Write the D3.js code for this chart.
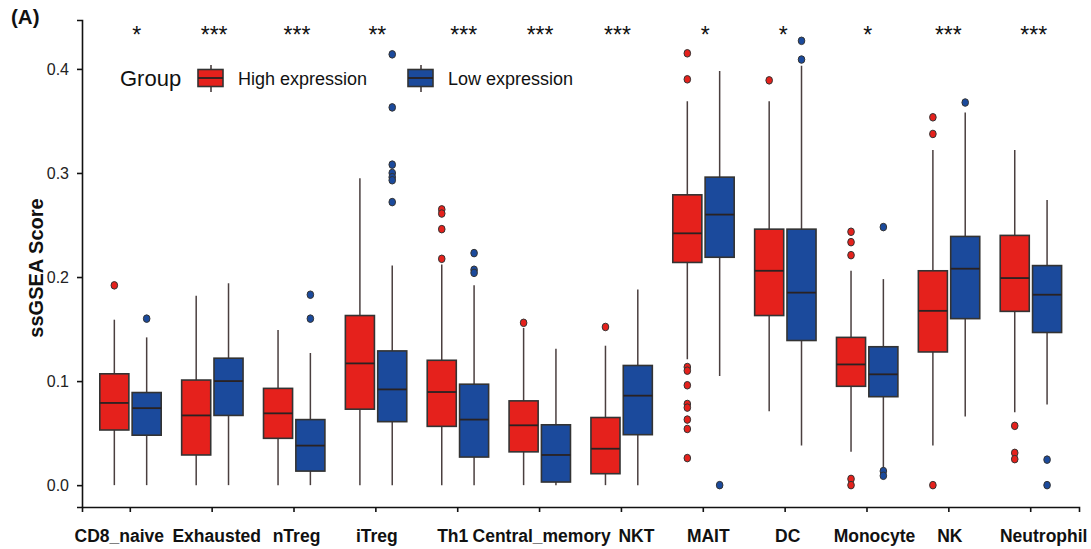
<!DOCTYPE html>
<html>
<head>
<meta charset="utf-8">
<script src="https://cdn.jsdelivr.net/npm/d3@7"></script>
<style>
  body { margin: 0; background: #fff; }
  svg { font-family: "Liberation Sans", Arial, sans-serif; }
</style>
</head>
<body>
<svg id="chart" width="1091" height="549"></svg>
<script>
// cell types on the x axis
const categories = ["CD8_naive", "Exhausted", "nTreg", "iTreg", "Th1", "Central_memory",
  "NKT", "MAIT", "DC", "Monocyte", "NK", "Neutrophil"];
const signif = ["*", "***", "***", "**", "***", "***", "***", "*", "*", "*", "***", "***"];

// [lower whisker, q1, median, q3, upper whisker]
const highStats = [
  [0.000, 0.053, 0.079, 0.107, 0.159],
  [0.000, 0.029, 0.067, 0.101, 0.182],
  [0.000, 0.045, 0.069, 0.093, 0.149],
  [0.000, 0.073, 0.117, 0.163, 0.295],
  [0.000, 0.0565, 0.0895, 0.120, 0.212],
  [0.000, 0.032, 0.0575, 0.081, 0.151],
  [0.000, 0.011, 0.035, 0.065, 0.134],
  [0.121, 0.214, 0.242, 0.279, 0.369],
  [0.071, 0.163, 0.206, 0.246, 0.369],
  [0.032, 0.095, 0.116, 0.142, 0.206],
  [0.038, 0.128, 0.1675, 0.206, 0.322],
  [0.070, 0.167, 0.199, 0.240, 0.322]
];
const highOutliers = [
  [0.192],
  [],
  [],
  [],
  [0.265, 0.261, 0.246, 0.2175],
  [0.156],
  [0.152],
  [0.415, 0.390, 0.1135, 0.110, 0.096, 0.078, 0.0745, 0.063, 0.054, 0.026],
  [0.389],
  [0.2435, 0.2335, 0.221, 0.006, 0.0],
  [0.3535, 0.3375, 0.0],
  [0.057, 0.031, 0.025]
];

const lowStats = [
  [0.000, 0.048, 0.074, 0.089, 0.142],
  [0.000, 0.067, 0.100, 0.122, 0.194],
  [0.000, 0.0135, 0.038, 0.063, 0.127],
  [0.000, 0.061, 0.092, 0.129, 0.211],
  [0.000, 0.027, 0.063, 0.097, 0.192],
  [0.000, 0.003, 0.029, 0.058, 0.131],
  [0.000, 0.0485, 0.086, 0.115, 0.188],
  [0.105, 0.219, 0.260, 0.296, 0.398],
  [0.038, 0.139, 0.185, 0.246, 0.403],
  [0.0167, 0.085, 0.1065, 0.133, 0.198],
  [0.066, 0.160, 0.208, 0.239, 0.358],
  [0.0774, 0.1467, 0.183, 0.211, 0.274]
];
const lowOutliers = [
  [0.160],
  [],
  [0.160, 0.183],
  [0.414, 0.363, 0.308, 0.300, 0.296, 0.293, 0.272],
  [0.223, 0.207, 0.204],
  [],
  [],
  [0.0],
  [0.409, 0.427],
  [0.248, 0.0135, 0.009],
  [0.3677],
  [0.0245, 0.0]
];

const groups = ["High expression", "Low expression"];
const yTicks = [0.0, 0.1, 0.2, 0.3, 0.4];

// the labels and stars in the original sit a little off their ticks
const labelNudge = [-11, 4.5, 2.5, 1, -5, 2, 15, 5, 2.5, 7.5, 1, 13];
const starNudge = [6.5, 2, 3, 1.5, 6, 0.5, -4, 2, -2, 0.7, -0.5, 3];

const colors = { "High expression": "#E5211C", "Low expression": "#1B4A9C" };

const svg = d3.select("#chart");
const margin = { top: 20, right: 12, bottom: 42, left: 82 };
const width = 1091 - margin.left - margin.right;
const height = 549 - margin.top - margin.bottom;

const x = d3.scaleBand()
  .domain(categories)
  .range([0, width])
  .paddingOuter(0.09)
  .paddingInner(0);

const y = d3.scaleLinear()
  .domain([-0.021, 0.447])
  .range([height, 0]);

const g = svg.append("g")
  .attr("transform", "translate(" + margin.left + "," + margin.top + ")");

// axes
const yAxis = g.append("g")
  .call(d3.axisLeft(y).tickValues(yTicks).tickFormat(d3.format(".1f")).tickSizeOuter(0).tickSize(5));
const xAxis = g.append("g")
  .attr("transform", "translate(0," + height + ")")
  .call(d3.axisBottom(x).tickSizeOuter(0).tickSize(5));

[yAxis, xAxis].forEach(a => {
  a.select(".domain").attr("stroke", "#111").attr("stroke-width", 1.6);
  a.selectAll(".tick line").attr("stroke", "#111").attr("stroke-width", 1.6);
});
yAxis.selectAll(".tick text")
  .attr("font-size", 16).attr("fill", "#222").attr("x", -13);
xAxis.selectAll(".tick text")
  .attr("font-size", 17.5).attr("font-weight", "bold").attr("fill", "#111")
  .attr("y", 35).attr("dy", 0)
  .attr("x", (d, i) => labelNudge[i]);

// y title
svg.append("text")
  .attr("transform", "translate(43,268) rotate(-90)")
  .attr("text-anchor", "middle")
  .attr("font-size", 20)
  .attr("font-weight", "bold")
  .attr("fill", "#111")
  .text("ssGSEA Score");

// panel tag
svg.append("text")
  .attr("x", 11).attr("y", 24)
  .attr("font-size", 20.5).attr("font-weight", "bold").attr("fill", "#111")
  .text("(A)");

const step = x.step();
const boxW = step * 0.355;
const offsets = [-0.195 * step, 0.2 * step];

function drawBoxes(stats, outliers, group, k) {
  const col = colors[group];
  categories.forEach((c, i) => {
    const s = stats[i];
    const cx = x(c) + step / 2 + offsets[k];
    const bg = g.append("g");
    bg.append("line")
      .attr("x1", cx).attr("x2", cx)
      .attr("y1", y(s[0])).attr("y2", y(s[4]))
      .attr("stroke", "#4a3f3f").attr("stroke-width", 1.5);
    bg.append("rect")
      .attr("x", cx - boxW / 2).attr("width", boxW)
      .attr("y", y(s[3])).attr("height", y(s[1]) - y(s[3]))
      .attr("fill", col).attr("stroke", "#333").attr("stroke-width", 1.6);
    bg.append("line")
      .attr("x1", cx - boxW / 2).attr("x2", cx + boxW / 2)
      .attr("y1", y(s[2])).attr("y2", y(s[2]))
      .attr("stroke", "#2a2222").attr("stroke-width", 1.8);
    bg.selectAll("ellipse")
      .data(outliers[i])
      .join("ellipse")
      .attr("cx", cx).attr("cy", d => y(d))
      .attr("rx", 3.3).attr("ry", 3.8)
      .attr("fill", col).attr("stroke", "#333").attr("stroke-width", 1);
  });
}
drawBoxes(highStats, highOutliers, groups[0], 0);
drawBoxes(lowStats, lowOutliers, groups[1], 1);

// significance stars
g.selectAll(".sig")
  .data(categories)
  .join("text")
  .attr("class", "sig")
  .attr("x", (d, i) => x(d) + step / 2 + starNudge[i])
  .attr("y", 22.5)
  .attr("text-anchor", "middle")
  .attr("font-size", 23)
  .attr("fill", "#111")
  .text((d, i) => signif[i]);

// legend
const legend = svg.append("g");
legend.append("text")
  .attr("x", 120).attr("y", 86)
  .attr("font-size", 22).attr("fill", "#111")
  .text("Group");
const legendX = [198, 408];
groups.forEach((grp, k) => {
  const lx = legendX[k];
  const lg = legend.append("g");
  lg.append("line")
    .attr("x1", lx + 13).attr("x2", lx + 13)
    .attr("y1", 65).attr("y2", 92)
    .attr("stroke", "#4a3f3f").attr("stroke-width", 1.6);
  lg.append("rect")
    .attr("x", lx).attr("y", 69.5).attr("width", 25).attr("height", 17)
    .attr("fill", colors[grp]).attr("stroke", "#333").attr("stroke-width", 1.6);
  lg.append("line")
    .attr("x1", lx).attr("x2", lx + 25)
    .attr("y1", 78).attr("y2", 78)
    .attr("stroke", "#2a2222").attr("stroke-width", 1.8);
  lg.append("text")
    .attr("x", lx + 40).attr("y", 85)
    .attr("font-size", 18).attr("fill", "#111")
    .text(grp);
});
</script>
</body>
</html>
